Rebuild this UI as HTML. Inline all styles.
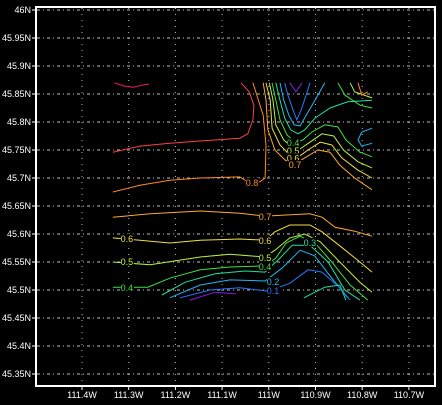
<!DOCTYPE html>
<html><head><meta charset="utf-8"><style>
html,body{margin:0;padding:0;background:#000;}
svg{display:block;font-family:"Liberation Sans",sans-serif;}
</style></head><body>
<svg id="chart" width="442" height="405" viewBox="0 0 442 405" xmlns="http://www.w3.org/2000/svg">
<rect x="0" y="0" width="442" height="405" fill="#000"/>
<g id="grid"></g>
<g id="lines"></g>
<g id="labels"></g>
<g id="axes"></g>
<rect x="36" y="7" width="399" height="379" fill="none" stroke="#fff" stroke-width="2"/>
</svg>
<script>
const lonTicks=[111.4,111.3,111.2,111.1,111.0,110.9,110.8,110.7];
const lonTickLabels=["111.4W","111.3W","111.2W","111.1W","111W","110.9W","110.8W","110.7W"];
const latTicks=[46,45.95,45.9,45.85,45.8,45.75,45.7,45.65,45.6,45.55,45.5,45.45,45.4,45.35];
const latTickLabels=["46N","45.95N","45.9N","45.85N","45.8N","45.75N","45.7N","45.65N","45.6N","45.55N","45.5N","45.45N","45.4N","45.35N"];
const levelColors={"1":"#f0186a","0.9":"#ff4040","0.8":"#ff8a20","0.7":"#ffa830","0.6":"#f0e040","0.5":"#c0f040","0.4":"#40e040","0.3":"#20e0a0","0.2":"#20b8f0","0.1":"#2878ff","0":"#8020e0"};
const contourLevels=[1,0.9,0.8,0.7,0.6,0.5,0.4,0.3,0.2,0.1,0,0.7,0.6,0.5,0.4,0.3,0.3,0.2,0.1,0,0.4,0.5,0.2,0.8];
const contourPoints=[
[[111.331,45.870],[111.308,45.864],[111.291,45.862],[111.257,45.868]],
[[111.334,45.746],[111.276,45.757],[111.212,45.762],[111.147,45.766],[111.062,45.771],[111.045,45.779],[111.034,45.804],[111.032,45.830],[111.042,45.854],[111.060,45.870]],
[[111.334,45.675],[111.276,45.687],[111.212,45.696],[111.147,45.700],[111.062,45.702],[111.051,45.696],[111.019,45.693],[111.008,45.700],[111.006,45.759],[111.012,45.812],[111.034,45.870]],
[[111.334,45.630],[111.254,45.636],[111.147,45.641],[111.062,45.637],[111.008,45.632],[110.912,45.636],[110.886,45.630],[110.858,45.612],[110.816,45.605],[110.779,45.596]],
[[111.334,45.593],[111.276,45.589],[111.212,45.584],[111.147,45.589],[111.062,45.591],[111.008,45.589],[110.987,45.604],[110.955,45.616],[110.912,45.616],[110.886,45.604],[110.848,45.579],[110.805,45.550],[110.779,45.532]],
[[111.334,45.550],[111.254,45.545],[111.147,45.559],[111.083,45.564],[111.008,45.559],[110.987,45.571],[110.955,45.593],[110.923,45.600],[110.890,45.586],[110.848,45.550],[110.805,45.514],[110.779,45.496]],
[[111.334,45.505],[111.259,45.505],[111.212,45.521],[111.147,45.536],[111.083,45.541],[111.008,45.543],[110.985,45.557],[110.963,45.584],[110.933,45.596],[110.899,45.582],[110.865,45.550],[110.826,45.509],[110.788,45.482]],
[[111.229,45.491],[111.179,45.514],[111.115,45.529],[111.051,45.534],[111.008,45.532],[110.976,45.557],[110.950,45.580],[110.912,45.580],[110.873,45.550],[110.837,45.500],[110.805,45.482]],
[[111.212,45.486],[111.147,45.509],[111.083,45.518],[111.008,45.516],[110.972,45.539],[110.933,45.571],[110.902,45.561],[110.865,45.521],[110.831,45.486]],
[[111.190,45.486],[111.126,45.500],[111.062,45.504],[111.002,45.498],[110.955,45.512],[110.916,45.536],[110.886,45.532],[110.848,45.504],[110.826,45.482]],
[[111.169,45.482],[111.115,45.496],[111.070,45.493]],
[[111.012,45.870],[111.006,45.839],[111.002,45.786],[110.987,45.750],[110.965,45.732],[110.944,45.725],[110.923,45.736],[110.895,45.750],[110.869,45.746],[110.848,45.723],[110.816,45.700],[110.779,45.679]],
[[111.006,45.870],[110.997,45.839],[110.993,45.789],[110.976,45.759],[110.955,45.741],[110.938,45.737],[110.916,45.750],[110.890,45.764],[110.865,45.759],[110.844,45.736],[110.809,45.714],[110.779,45.700]],
[[110.999,45.870],[110.991,45.839],[110.985,45.795],[110.968,45.768],[110.948,45.754],[110.933,45.752],[110.912,45.764],[110.886,45.779],[110.861,45.775],[110.840,45.750],[110.809,45.729],[110.779,45.718]],
[[110.993,45.870],[110.985,45.839],[110.976,45.804],[110.961,45.777],[110.944,45.764],[110.927,45.768],[110.908,45.782],[110.880,45.795],[110.852,45.791],[110.835,45.768],[110.805,45.746],[110.779,45.738]],
[[110.985,45.870],[110.976,45.839],[110.966,45.807],[110.953,45.786],[110.938,45.779],[110.923,45.786],[110.901,45.807],[110.869,45.825],[110.831,45.836],[110.779,45.839]],
[[110.925,45.486],[110.880,45.505],[110.848,45.509],[110.835,45.482]],
[[110.976,45.870],[110.968,45.839],[110.957,45.812],[110.946,45.795],[110.933,45.793],[110.920,45.812],[110.901,45.839],[110.880,45.870]],
[[110.966,45.870],[110.959,45.848],[110.948,45.821],[110.940,45.804],[110.931,45.821],[110.920,45.848],[110.912,45.870]],
[[110.955,45.870],[110.942,45.854],[110.929,45.870]],
[[110.852,45.870],[110.837,45.848],[110.805,45.830],[110.779,45.825]],
[[110.826,45.870],[110.816,45.854],[110.779,45.843]],
[[110.779,45.789],[110.801,45.782],[110.809,45.768],[110.801,45.757],[110.779,45.762]],
[[110.809,45.870],[110.801,45.848],[110.788,45.854]]
];
const labelLevels=["0.8","0.7","0.6","0.6","0.5","0.5","0.4","0.4","0.3","0.2","0.1","0.4","0.5","0.6","0.7"];
const labelLons=[111.036,111.008,111.304,111.008,111.304,111.008,111.304,111.008,110.912,110.991,110.991,110.948,110.948,110.948,110.944];
const labelLats=[45.693,45.632,45.593,45.589,45.552,45.559,45.505,45.543,45.586,45.516,45.500,45.764,45.750,45.737,45.725];

const NS="http://www.w3.org/2000/svg";
function xS(lon){return 82+(111.4-lon)*467;}
function yS(lat){return 10+(46-lat)*560;}
function mk(tag,attrs,parent){const e=document.createElementNS(NS,tag);for(const k in attrs)e.setAttribute(k,attrs[k]);parent.appendChild(e);return e;}
const grid=document.getElementById('grid'),axes=document.getElementById('axes'),lines=document.getElementById('lines'),labs=document.getElementById('labels');
lonTicks.forEach((lon,i)=>{
  const x=xS(lon);
  const g=mk('line',{x1:x,y1:8,x2:x,y2:385,stroke:'#bbb','stroke-width':1,'stroke-dasharray':'1 5'},grid);
  
  
  const t=mk('line',{x1:x,y1:386,x2:x,y2:390,stroke:'#fff','stroke-width':1},axes);
  
  
  const tx=mk('text',{x:x,y:398,fill:'#fff','font-size':9,'text-anchor':'middle'},axes);
  tx.textContent=lonTickLabels[i];
  
  
});
latTicks.forEach((lat,i)=>{
  const y=yS(lat);
  const g=mk('line',{x1:37,y1:y,x2:434,y2:y,stroke:'#bbb','stroke-width':1,'stroke-dasharray':'3 3 1 3'},grid);
  
  
  const t=mk('line',{x1:32,y1:y,x2:36,y2:y,stroke:'#fff','stroke-width':1},axes);
  
  
  const tx=mk('text',{x:31,y:y+3,fill:'#fff','font-size':9,'text-anchor':'end'},axes);
  tx.textContent=latTickLabels[i];
  
  
});
contourPoints.forEach((pts,i)=>{
  const lv=String(contourLevels[i]);
  const p=mk('polyline',{points:pts.map(q=>xS(q[0]).toFixed(1)+','+yS(q[1]).toFixed(1)).join(' '),fill:'none',stroke:levelColors[lv],'stroke-width':1},lines);
  
  
});
labelLevels.forEach((lv,i)=>{
  const x=xS(labelLons[i]),y=yS(labelLats[i]);
  const r=mk('rect',{x:x-6,y:y-4,width:13,height:9,fill:'#000'},labs);
  
  
  const t=mk('text',{x:x,y:y+4,fill:levelColors[lv],'font-size':9,'text-anchor':'middle'},labs);
  t.textContent=lv;
  
  
});
</script>
</body></html>
